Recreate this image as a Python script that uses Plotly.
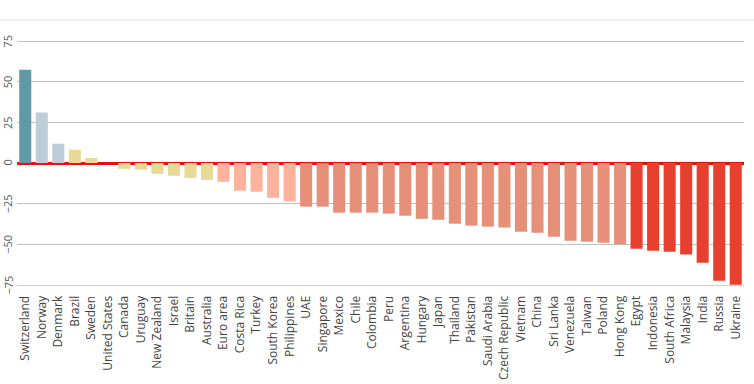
import plotly.graph_objects as go

countries = ["Switzerland", "Norway", "Denmark", "Brazil", "Sweden", "United States",
             "Canada", "Uruguay", "New Zealand", "Israel", "Britain", "Australia",
             "Euro area", "Costa Rica", "Turkey", "South Korea", "Philippines", "UAE",
             "Singapore", "Mexico", "Chile", "Colombia", "Peru", "Argentina", "Hungary",
             "Japan", "Thailand", "Pakistan", "Saudi Arabia", "Czech Republic", "Vietnam",
             "China", "Sri Lanka", "Venezuela", "Taiwan", "Poland", "Hong Kong", "Egypt",
             "Indonesia", "South Africa", "Malaysia", "India", "Russia", "Ukraine"]
values = [57.4, 31.1, 11.9, 8.2, 3.2, 0.0,
          -3.5, -4.1, -6.6, -7.8, -9.1, -10.3,
          -11.5, -17.0, -17.6, -21.4, -23.6, -26.8,
          -26.8, -30.5, -30.5, -30.5, -31.1, -32.4, -34.3,
          -34.9, -37.3, -38.5, -39.1, -39.6, -42.2,
          -42.8, -45.3, -47.8, -48.4, -49.0, -49.9, -52.7,
          -53.9, -54.5, -56.3, -61.3, -72.4, -74.8]
y_ticks = [-75, -50, -25, 0, 25, 50, 75]
y_tick_labels = ["\u221275", "\u221250", "\u221225", "0", "25", "50", "75"]


def bar_color(v):
    if v >= 50:
        return "#6398a5"
    if v >= 10:
        return "#bccfd8"
    if v > -10.5:
        return "#e7d996"
    if v > -25:
        return "#fdb39b"
    if v > -50.5:
        return "#e69079"
    return "#e8402f"


W, H = 754, 384
ML, MR, MT, MB = 17, 10, 20, 99
plot_w = W - ML - MR

fig = go.Figure(go.Bar(
    x=countries, y=values,
    marker=dict(color=[bar_color(v) for v in values], line=dict(width=0)),
))

annotations = [
    dict(x=-9.5 / plot_w, xref="paper", y=v, yref="y", text=t, textangle=-90,
         showarrow=False, xanchor="center", yanchor="middle",
         font=dict(size=11, color="#555"))
    for v, t in zip(y_ticks, y_tick_labels)
]

fig.update_layout(
    width=W, height=H,
    margin=dict(l=ML, r=MR, t=MT, b=MB, autoexpand=False),
    plot_bgcolor="white", paper_bgcolor="white",
    bargap=0.27,
    showlegend=False,
    font=dict(family="Open Sans, sans-serif", size=12, color="#444"),
    annotations=annotations,
    shapes=[dict(type="line", xref="paper", yref="paper",
                 x0=-ML / plot_w, x1=(W - ML) / plot_w, y0=1, y1=1,
                 line=dict(color="#dddddd", width=1))],
)
fig.update_xaxes(
    tickangle=-90, showgrid=False, showline=True, linecolor="#c9d0dc", linewidth=1,
    ticks="", tickfont=dict(size=12, color="#444"), automargin=False,
    ticklabelstandoff=5,
)
fig.update_yaxes(
    range=[-75, 88], tickvals=y_ticks, showticklabels=False, automargin=False,
    showgrid=True, gridcolor="#c0c0c0", gridwidth=1,
    zeroline=True, zerolinecolor="#e3120b", zerolinewidth=2.5,
    ticks="",
)

fig.write_html("out.html", post_script="document.body.style.margin='0';",
               config={"displayModeBar": False})
